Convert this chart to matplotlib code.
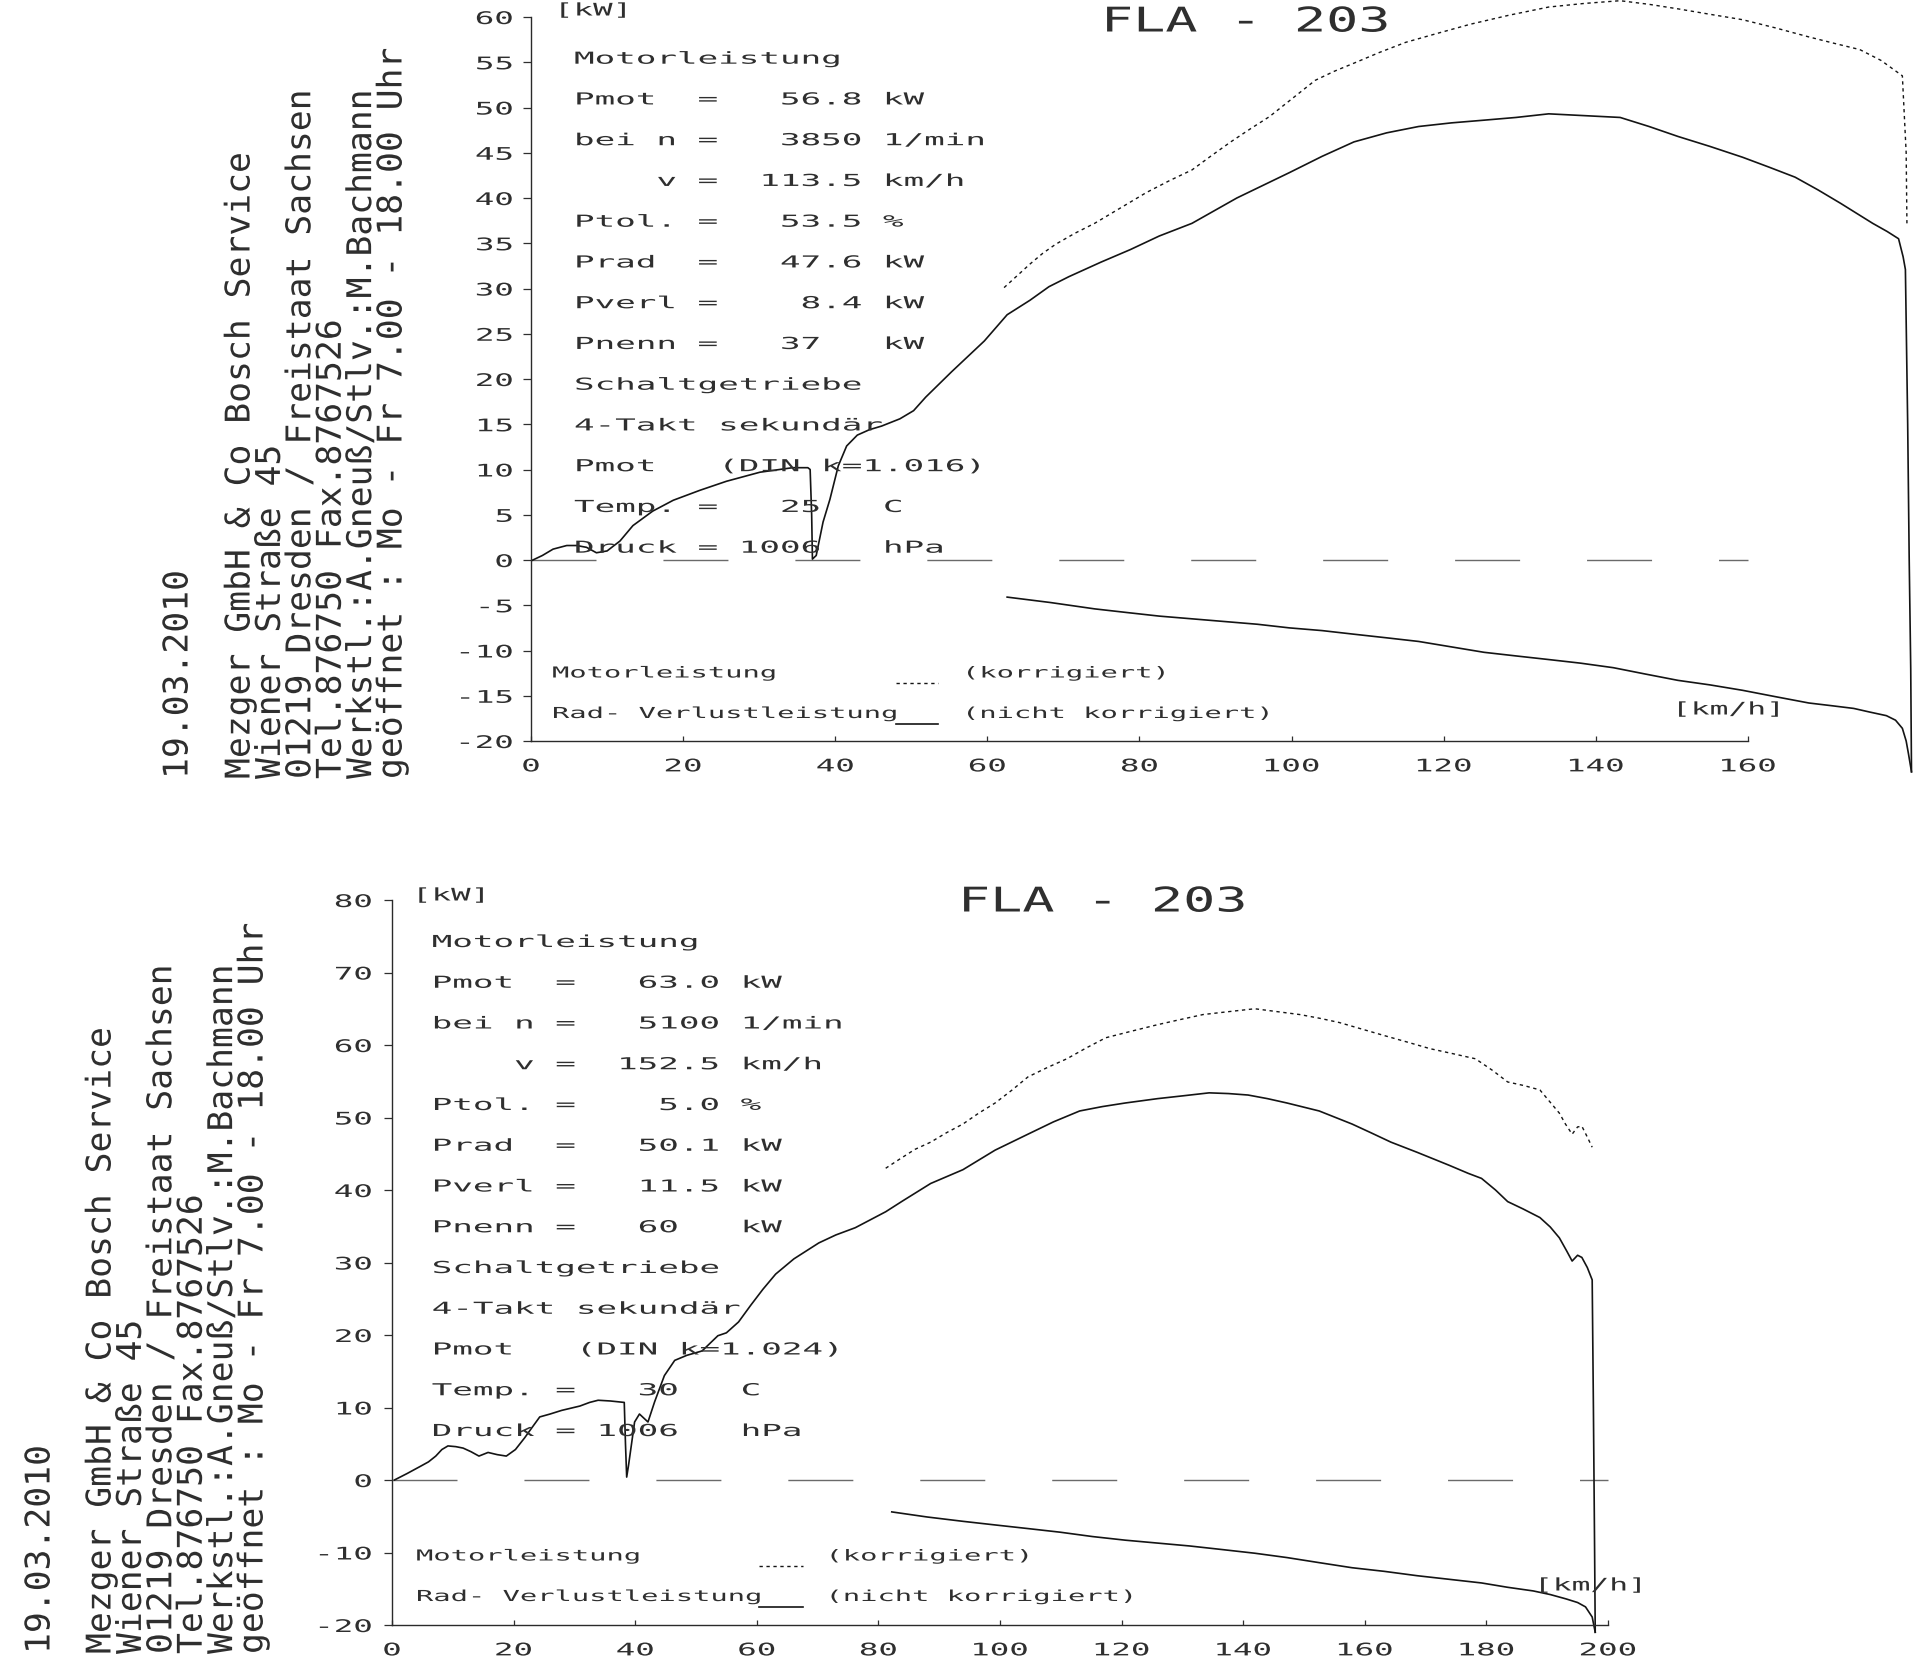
"""Leistungsdiagramm FLA-203 (zwei Prüfstandsläufe) als Nachbau in matplotlib."""
import matplotlib

matplotlib.use("Agg")
import matplotlib.pyplot as plt  # noqa: E402
from matplotlib.lines import Line2D  # noqa: E402
from matplotlib.patheffects import AbstractPathEffect  # noqa: E402
from matplotlib.transforms import Affine2D  # noqa: E402

plt.rcParams["axes.unicode_minus"] = False

W, H = 1917, 1674
MONO = "DejaVu Sans Mono"
INK = "#2f2f2f"     # Text (Scan-Grau)
PEN = "#141414"     # Kurven
DASH = "#6a6a6a"    # Nulllinie

# ---------------------------------------------------------------- Daten
DATE = "19.03.2010"
ADDRESS = [
    "Mezger GmbH & Co Bosch Service",
    "Wiener Straße 45",
    "01219 Dresden / Freistaat Sachsen",
    "Tel.876750 Fax.8767526",
    "Werkstl.:A.Gneuß/Stlv.:M.Bachmann",
    "geöffnet : Mo - Fr 7.00 - 18.00 Uhr",
]
TITLE = "FLA - 203"
LEGEND_LEFT = ["Motorleistung", "Rad- Verlustleistung"]
LEGEND_RIGHT = ["(korrigiert)", "(nicht korrigiert)"]

TOP_STATS = [
    "Motorleistung",
    "Pmot  =   56.8 kW",
    "bei n =   3850 1/min",
    "    v =  113.5 km/h",
    "Ptol. =   53.5 %",
    "Prad  =   47.6 kW",
    "Pverl =    8.4 kW",
    "Pnenn =   37   kW",
    "Schaltgetriebe",
    "4-Takt sekundär",
    "Pmot   (DIN k=1.016)",
    "Temp. =   25   C",
    "Druck = 1006   hPa",
]
BOT_STATS = [
    "Motorleistung",
    "Pmot  =   63.0 kW",
    "bei n =   5100 1/min",
    "    v =  152.5 km/h",
    "Ptol. =    5.0 %",
    "Prad  =   50.1 kW",
    "Pverl =   11.5 kW",
    "Pnenn =   60   kW",
    "Schaltgetriebe",
    "4-Takt sekundär",
    "Pmot   (DIN k=1.024)",
    "Temp. =   30   C",
    "Druck = 1006   hPa",
]

TOP_XTICKS = [0, 20, 40, 60, 80, 100, 120, 140, 160]
TOP_YTICKS = [-20, -15, -10, -5, 0, 5, 10, 15, 20, 25, 30, 35, 40, 45, 50, 55, 60]
BOT_XTICKS = [0, 20, 40, 60, 80, 100, 120, 140, 160, 180, 200]
BOT_YTICKS = [-20, -10, 0, 10, 20, 30, 40, 50, 60, 70, 80]

# Lauf 1: Radleistung (durchgezogen), km/h -> kW
TOP_RAD_V = [0, 1.5, 2.9, 4.7, 6.0, 7.3, 8.6, 10.0, 11.7, 13.4, 16.0, 18.7,
             22.2, 25.7, 30.1, 34.4, 36.4, 36.7, 36.9, 37.0, 37.5, 38.4,
             39.3, 40.4, 41.5, 42.9, 44.5, 46.1, 48.5, 50.3, 51.9, 55.3,
             59.6, 62.6, 65.6, 68.1, 70.7, 74.9, 78.8, 82.6, 86.9, 92.8,
             99.7, 104.0, 108.2, 112.5, 116.7, 121.0, 125.3, 129.5, 133.8,
             138.5, 143.2, 147.0, 150.8, 155.0, 159.3, 162.8, 166.2, 169.2,
             172.2, 174.3, 176.4, 178.3, 179.8, 180.4, 180.7, 181.0, 181.2,
             181.4, 181.5]
TOP_RAD_P = [-0.1, 0.5, 1.2, 1.6, 1.6, 1.4, 0.8, 1.0, 2.1, 3.8, 5.4, 6.6,
             7.7, 8.7, 9.7, 10.2, 10.2, 10.0, 5.0, 0.1, 0.5, 4.2,
             6.7, 10.4, 12.6, 13.8, 14.4, 14.8, 15.6, 16.5, 18.0, 20.8,
             24.2, 27.1, 28.7, 30.2, 31.3, 32.9, 34.3, 35.8, 37.2, 40.0,
             42.8, 44.6, 46.2, 47.2, 47.9, 48.3, 48.6, 48.9, 49.3,
             49.1, 48.9, 47.9, 46.8, 45.7, 44.5, 43.4, 42.3, 40.9,
             39.4, 38.3, 37.2, 36.3, 35.5, 33.5, 32.1, 15.0, 0.0,
             -12.0, -23.4]

# Lauf 1: Motorleistung korrigiert (gepunktet)
TOP_MOT_V = [62.2, 63.9, 65.6, 67.3, 69.0, 71.5, 74.1, 77.5, 80.9, 83.9,
             86.9, 89.5, 92.0, 94.5, 97.1, 100.1, 103.1, 105.6, 108.2, 111.6,
             115.0, 119.2, 123.5, 128.6, 133.8, 138.5, 143.2, 147.0, 150.8,
             155.0, 159.3, 163.6, 168.0, 171.3, 174.7, 177.5, 180.3, 180.8,
             180.9]
TOP_MOT_P = [30.1, 31.4, 32.7, 33.9, 34.9, 36.1, 37.2, 38.9, 40.6, 41.9,
             43.1, 44.7, 46.2, 47.6, 49.0, 51.0, 53.0, 54.0, 54.9, 56.1,
             57.2, 58.2, 59.2, 60.2, 61.1, 61.5, 61.8, 61.4, 60.9,
             60.3, 59.7, 58.8, 57.8, 57.1, 56.4, 55.2, 53.5, 45.0,
             37.2]

# Lauf 1: Verlustleistung
TOP_VERL_V = [62.6, 68.3, 74.1, 78.3, 82.6, 86.9, 91.2, 95.5, 99.7, 104.0,
              108.2, 112.5, 116.7, 121.0, 125.3, 129.5, 133.8, 138.0, 142.3,
              146.5, 150.8, 155.0, 159.3, 163.6, 168.0, 171.0, 173.9, 176.0,
              178.2, 179.4, 180.3, 180.8, 181.1, 181.5]
TOP_VERL_P = [-4.1, -4.7, -5.4, -5.8, -6.2, -6.5, -6.8, -7.1, -7.5, -7.8,
              -8.2, -8.6, -9.0, -9.6, -10.2, -10.6, -11.0, -11.4, -11.9,
              -12.6, -13.3, -13.8, -14.4, -15.1, -15.8, -16.1, -16.4, -16.8,
              -17.2, -17.7, -18.6, -20.0, -21.4, -23.4]

# Lauf 2: Radleistung
BOT_RAD_V = [0.4, 2.5, 4.7, 6.0, 7.2, 8.2, 9.2, 10.5, 11.7, 13.0, 14.3, 15.8,
             17.3, 18.8, 20.3, 21.8, 23.0, 24.3, 26.0, 27.9, 30.9, 32.5,
             33.9, 35.9, 38.2, 38.4, 38.6, 38.9, 39.9, 40.7, 42.1, 43.2,
             44.8, 46.5, 48.5, 51.0, 53.6, 55.0, 57.0, 59.0, 61.0, 63.1,
             66.1, 70.2, 73.0, 76.2, 78.7, 81.2, 84.0, 88.6, 93.9, 99.2,
             104.6, 108.8, 113.1, 116.8, 120.6, 125.9, 130.2, 134.4, 137.6,
             140.8, 144.0, 147.2, 152.5, 157.9, 161.0, 164.3, 168.6, 173.9,
             177.0, 179.2, 181.5, 183.5, 186.0, 188.8, 190.5, 192.0, 193.2,
             194.1, 195.0, 195.7, 196.6, 197.4, 197.6, 197.8, 197.9]
BOT_RAD_P = [0.0, 0.9, 1.9, 2.5, 3.3, 4.2, 4.7, 4.6, 4.4, 3.9, 3.3, 3.8,
             3.5, 3.3, 4.2, 5.8, 7.2, 8.7, 9.1, 9.6, 10.2, 10.7,
             11.0, 10.9, 10.7, 5.0, 0.4, 2.0, 8.0, 9.1, 8.0, 10.8,
             14.4, 16.5, 17.2, 17.8, 19.9, 20.3, 21.8, 24.1, 26.3, 28.4,
             30.5, 32.7, 33.8, 34.8, 35.9, 37.0, 38.5, 40.9, 42.8, 45.5,
             47.7, 49.4, 50.9, 51.5, 52.0, 52.6, 53.0, 53.4, 53.3,
             53.1, 52.6, 52.0, 50.9, 49.1, 47.9, 46.6, 45.2, 43.4,
             42.3, 41.6, 40.0, 38.4, 37.4, 36.2, 34.9, 33.4, 31.6,
             30.2, 31.0, 30.7, 29.3, 27.6, 10.0, -10.0, -21.0]

# Lauf 2: Motorleistung korrigiert
BOT_MOT_V = [81.2, 83.2, 86.0, 88.6, 91.2, 93.9, 96.5, 99.2, 102.0, 104.6,
             107.8, 111.0, 114.2, 117.4, 121.6, 125.9, 129.6, 133.4, 137.6,
             141.9, 145.6, 149.3, 152.5, 155.8, 159.5, 163.2, 167.0, 170.7,
             174.5, 178.2, 181.0, 183.5, 186.2, 188.8, 190.4, 192.0, 193.0,
             194.1, 195.0, 195.7, 196.6, 197.4]
BOT_MOT_P = [43.0, 44.1, 45.6, 46.6, 47.9, 49.1, 50.6, 52.0, 53.8, 55.6,
             56.9, 58.1, 59.6, 61.0, 61.9, 62.8, 63.5, 64.2, 64.6,
             65.0, 64.6, 64.2, 63.7, 63.1, 62.2, 61.3, 60.4, 59.5,
             58.8, 58.1, 56.5, 54.9, 54.4, 53.8, 52.2, 50.6, 49.1,
             47.7, 48.7, 48.8, 47.3, 45.9]

# Lauf 2: Verlustleistung
BOT_VERL_V = [82.2, 88.0, 93.9, 99.2, 104.6, 109.9, 115.2, 120.6, 125.9,
              131.2, 136.6, 141.9, 147.2, 152.5, 157.9, 163.2, 168.6, 173.9,
              179.2, 183.5, 187.7, 190.5, 193.1, 195.0, 196.3, 197.4, 197.9]
BOT_VERL_P = [-4.4, -5.1, -5.7, -6.2, -6.7, -7.2, -7.8, -8.3, -8.7,
              -9.1, -9.6, -10.1, -10.7, -11.4, -12.1, -12.6, -13.2, -13.7,
              -14.2, -14.8, -15.3, -15.8, -16.4, -16.9, -17.5, -18.9, -21.0]


class Stretch(AbstractPathEffect):
    """Zieht Glyphen in Leserichtung auseinander (breite Plotterschrift)."""

    def __init__(self, sx, anchor=0.0):
        super().__init__()
        self.sx, self.anchor = sx, anchor

    def draw_path(self, renderer, gc, tpath, affine, rgbFace=None):
        piv = 0.0
        if self.anchor:
            ext = tpath.get_extents()
            piv = ext.x0 + self.anchor * ext.width
        pre = Affine2D().translate(-piv, 0).scale(self.sx, 1).translate(piv, 0)
        renderer.draw_path(gc, tpath,
                           Affine2D(affine.get_matrix() @ pre.get_matrix()),
                           rgbFace)


ANCHOR = {"left": 0.0, "center": 0.5, "right": 1.0}


def wide(t, sx):
    t.set_path_effects([Stretch(sx, ANCHOR[t.get_ha()])])
    return t


fig = plt.figure(figsize=(W / 100, H / 100), dpi=100)
fig.patch.set_facecolor("white")


def chart(x0, xper, xmax, xend, y0, yper, ylo, yhi, ytop, xticks, yticks,
          rad, mot, verl, ypad):
    bottom_px = y0 - ylo * yper
    ax = fig.add_axes([x0 / W, 1 - bottom_px / H, xmax * xper / W,
                       (yhi - ylo) * yper / H])
    ax.set_facecolor("none")
    ax.set_xlim(0, xmax)
    ax.set_ylim(ylo, yhi)
    for side in ("top", "right"):
        ax.spines[side].set_visible(False)
    for side in ("left", "bottom"):
        ax.spines[side].set_color("#2a2a2a")
        ax.spines[side].set_linewidth(1.0)
    ax.spines["left"].set_bounds(-20, ytop)
    ax.spines["bottom"].set_position(("data", -20))
    ax.spines["bottom"].set_bounds(0, xend)

    ax.set_xticks(xticks, [str(v) for v in xticks])
    ax.set_yticks(yticks, [str(v) for v in yticks])
    ax.tick_params(axis="x", direction="in", length=3.6, width=0.9,
                   pad=11.8, labelsize=12.5, colors=INK,
                   labelfontfamily=MONO)
    ax.tick_params(axis="y", direction="out", length=6.0, width=0.9,
                   pad=ypad, labelsize=12.5, colors=INK,
                   labelfontfamily=MONO)
    for t in ax.get_xticklabels() + ax.get_yticklabels():
        wide(t, 1.87)

    ax.hlines(0, 0, xend, colors=DASH, linewidth=1.0,
              linestyles=(0, (46.8, 48.2)))
    ax.plot(*rad, color=PEN, lw=1.2, solid_joinstyle="round")
    ax.plot(*verl, color=PEN, lw=1.2, solid_joinstyle="round")
    ax.plot(*mot, color=PEN, lw=1.0, dashes=(2.4, 2.6))
    return ax


chart(531, 7.606, 182, 160, 561, 9.05, -24, 62, 60, TOP_XTICKS, TOP_YTICKS,
      (TOP_RAD_V, TOP_RAD_P), (TOP_MOT_V, TOP_MOT_P),
      (TOP_VERL_V, TOP_VERL_P), ypad=7.0)
chart(392, 6.08, 205, 200, 1481, 7.25, -22.5, 82, 80, BOT_XTICKS, BOT_YTICKS,
      (BOT_RAD_V, BOT_RAD_P), (BOT_MOT_V, BOT_MOT_P),
      (BOT_VERL_V, BOT_VERL_P), ypad=8.4)

# Overlay in Pixelkoordinaten für Beschriftung
ov = fig.add_axes([0, 0, 1, 1])
ov.set_xlim(0, W)
ov.set_ylim(H, 0)
ov.axis("off")
ov.set_facecolor("none")


def say(x, y, s, size, sx, ha="left", va="baseline", rot=0):
    t = ov.text(x, y, s, fontsize=size, family=MONO, ha=ha, va=va,
                rotation=rot, rotation_mode="anchor", color=INK)
    return wide(t, sx)


def block(date_x, addr_x, base_y, title_x, title_y, kw_xy, kmh_xy,
          stats, stats_x, stats_y, leg_x, leg_kx, leg_y, swatch_x):
    say(date_x, base_y, DATE, 24.5, 1.02, va="center", rot=90)
    for i, line in enumerate(ADDRESS):
        say(addr_x + 30.4 * i, base_y, line, 24.5, 1.02, va="center", rot=90)
    say(title_x, title_y + 12.5, TITLE, 24.5, 1.57)
    say(kw_xy[0], kw_xy[1] + 6.5, "[kW]", 12.5, 1.87)
    say(kmh_xy[0], kmh_xy[1] + 6.5, "[km/h]", 12.5, 1.80)
    for i, line in enumerate(stats):
        say(stats_x, stats_y + 40.75 * i + 6.0, line, 11.9, 2.07)
    for i in range(2):
        yy = leg_y + 40.5 * i
        say(leg_x, yy + 5.5, LEGEND_LEFT[i], 10.9, 1.9)
        say(leg_kx, yy + 5.5, LEGEND_RIGHT[i], 10.9, 1.9)
    ov.add_line(Line2D(swatch_x, [leg_y + 11] * 2, color=PEN, lw=1.0,
                       dashes=(2.4, 2.6)))
    ov.add_line(Line2D(swatch_x, [leg_y + 52] * 2, color=PEN, lw=1.2))


block(178, 240, 780, 1101, 20, (554, 10), (1672, 709),
      TOP_STATS, 574, 58.7, 552, 962, 673, [896, 938])
block(40, 101, 1655, 958, 900, (412, 895), (1534, 1585),
      BOT_STATS, 431.7, 942, 416, 825.5, 1556, [759, 803])

fig.savefig("out.png", dpi=100, facecolor="white")
